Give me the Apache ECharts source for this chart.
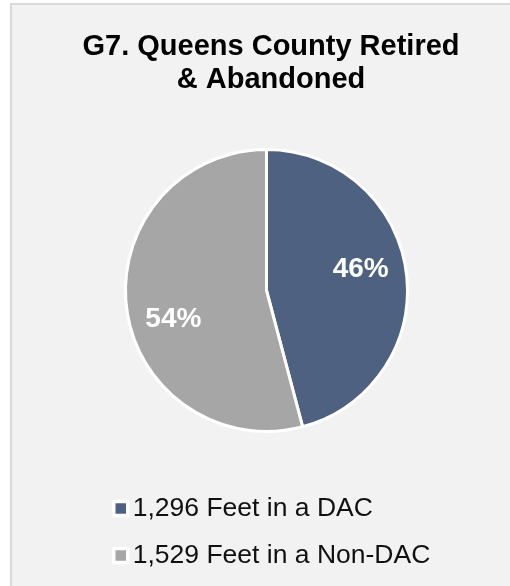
<!DOCTYPE html>
<html>
<head>
<meta charset="utf-8">
<script src="https://cdn.jsdelivr.net/npm/echarts@6/dist/echarts.min.js"></script>
<style>
  html, body { margin: 0; padding: 0; background: #ffffff; }
  #frame {
    position: absolute; left: 10px; top: 3px; width: 520px; height: 600px;
    background: #f2f2f2; border: 2px solid #d9d9d9; box-sizing: border-box;
  }
  #chart { position: absolute; left: 0; top: 0; width: 510px; height: 586px; }
</style>
</head>
<body>
<div id="frame"></div>
<div id="chart"></div>
<script>
// Footage of retired & abandoned pipe, split by disadvantaged-community status
const categories = ['Feet in a DAC', 'Feet in a Non-DAC'];
const feet = [1296, 1529];
const colors = ['#4e6180', '#a6a6a6'];

// small nudges so the percentage labels sit where the layout wants them
const labelNudge = [[-4, -8], [5, 16]];

const total = feet.reduce((a, b) => a + b, 0);
const pieData = categories.map((name, i) => ({
  name: name,
  value: feet[i],
  itemStyle: { color: colors[i] }
}));
const valueByName = {};
categories.forEach((c, i) => { valueByName[c] = feet[i]; });

const FONT = 'Liberation Sans, Arial, sans-serif';

const chart = echarts.init(document.getElementById('chart'));
chart.setOption({
  backgroundColor: 'transparent',
  animation: false,
  title: {
    text: 'G7. Queens County Retired\n& Abandoned',
    left: 266,
    top: 25,
    textAlign: 'center',
    textStyle: {
      fontFamily: FONT,
      fontSize: 29,
      fontWeight: 'bold',
      color: '#000000',
      lineHeight: 33
    }
  },
  legend: {
    orient: 'vertical',
    left: 112,
    top: 495,
    padding: 0,
    itemWidth: 14,
    itemHeight: 14,
    itemGap: 20,
    icon: 'rect',
    data: categories,
    itemStyle: { borderColor: '#ffffff', borderWidth: 3.5 },
    formatter: name => valueByName[name].toLocaleString('en-US') + ' ' + name,
    textStyle: {
      fontFamily: FONT,
      fontSize: 26.5,
      color: '#111111'
    }
  },
  series: [
    {
      type: 'pie',
      center: [266.5, 290.5],
      radius: [0, 141],
      startAngle: 90,
      clockwise: true,
      itemStyle: { borderColor: '#ffffff', borderWidth: 3 },
      label: { show: false },
      labelLine: { show: false },
      data: pieData
    },
    {
      // transparent ring carrying the percentage labels at ~2/3 radius
      type: 'pie',
      center: [266.5, 290.5],
      radius: [51, 141],
      startAngle: 90,
      clockwise: true,
      silent: true,
      legendHoverLink: false,
      itemStyle: { color: 'transparent', borderWidth: 0 },
      label: {
        show: true,
        position: 'inside',
        formatter: p => Math.round(p.value / total * 100) + '%',
        fontFamily: FONT,
        fontSize: 28,
        fontWeight: 'bold',
        color: '#ffffff'
      },
      labelLine: { show: false },
      data: categories.map((name, i) => ({
        name: name + ' ',
        value: feet[i],
        label: { offset: labelNudge[i] }
      }))
    }
  ]
});
</script>
</body>
</html>
